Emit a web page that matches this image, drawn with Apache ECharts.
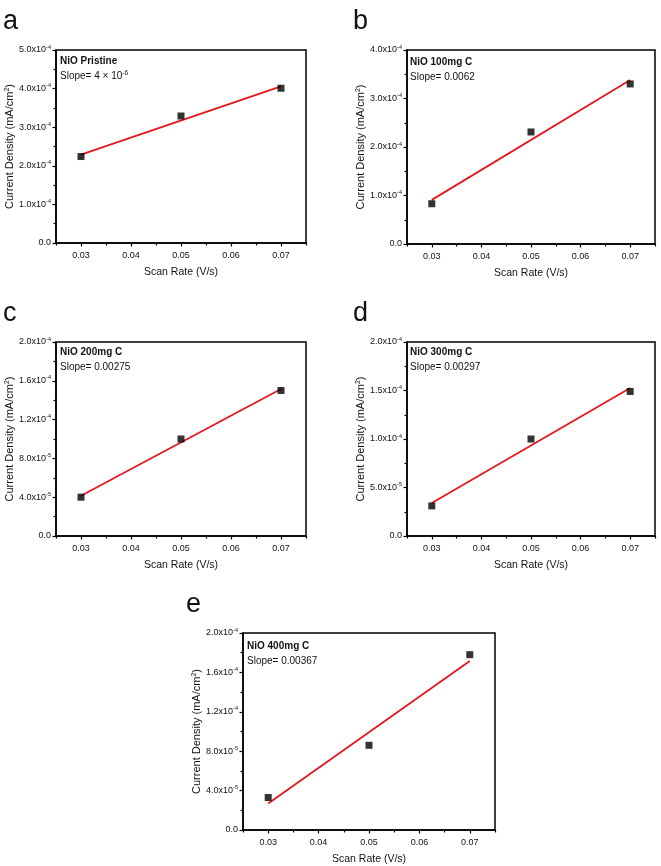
<!DOCTYPE html>
<html>
<head>
<meta charset="utf-8">
<script src="https://cdn.jsdelivr.net/npm/echarts@6/dist/echarts.min.js"></script>
<style>
html,body{margin:0;padding:0;background:#fff;}
#chart{width:661px;height:866px;}
</style>
</head>
<body>
<div id="chart"></div>
<script>
// ---- data ----
const scanRate = [0.03, 0.05, 0.07];
const fitX = [0.03, 0.07];
const xMajorTicks = [0.03, 0.04, 0.05, 0.06, 0.07];
const xMajorLabels = ['0.03', '0.04', '0.05', '0.06', '0.07'];
const xMinorTicks = [0.025, 0.035, 0.045, 0.055, 0.065, 0.075];

const densityA = [2.24e-4, 3.29e-4, 4.01e-4];
const fitA = [2.29e-4, 4.06e-4];
const densityB = [0.83e-4, 2.31e-4, 3.30e-4];
const fitB = [0.91e-4, 3.38e-4];
const densityC = [0.40e-4, 1.00e-4, 1.50e-4];
const fitC = [0.415e-4, 1.515e-4];
const densityD = [0.31e-4, 1.00e-4, 1.49e-4];
const fitD = [0.34e-4, 1.525e-4];
const densityE = [0.33e-4, 0.86e-4, 1.78e-4];
const fitE = [0.27e-4, 1.715e-4];

const yTicksA = [0, 1e-4, 2e-4, 3e-4, 4e-4, 5e-4];
const yLabelsA = ['0.0', '1.0x10^-4', '2.0x10^-4', '3.0x10^-4', '4.0x10^-4', '5.0x10^-4'];
const yTicksB = [0, 1e-4, 2e-4, 3e-4, 4e-4];
const yLabelsB = ['0.0', '1.0x10^-4', '2.0x10^-4', '3.0x10^-4', '4.0x10^-4'];
const yTicksCE = [0, 4e-5, 8e-5, 1.2e-4, 1.6e-4, 2e-4];
const yLabelsCE = ['0.0', '4.0x10^-5', '8.0x10^-5', '1.2x10^-4', '1.6x10^-4', '2.0x10^-4'];
const yTicksD = [0, 5e-5, 1e-4, 1.5e-4, 2e-4];
const yLabelsD = ['0.0', '5.0x10^-5', '1.0x10^-4', '1.5x10^-4', '2.0x10^-4'];

const panelLetters = ['a', 'b', 'c', 'd', 'e'];
const sampleNames = ['NiO Pristine', 'NiO 100mg C', 'NiO 200mg C', 'NiO 300mg C', 'NiO 400mg C'];
const slopeTexts = [['Slope= 4 \u00d7 10', '-6'], ['Slope= 0.0062', ''], ['Slope= 0.00275', ''], ['Slope= 0.00297', ''], ['Slope= 0.00367', '']];
const xName = 'Scan Rate (V/s)';

// ---- layout ----
const FONT = 'Liberation Sans, Arial, Helvetica, sans-serif';
const panels = [
  {grid: {left: 56, top: 50, width: 250, height: 193}, dens: densityA, fit: fitA, ticks: yTicksA, labels: yLabelsA, max: 5e-4, interval: 1e-4, letter: [3, 8], text: [60, 61]},
  {grid: {left: 407, top: 50, width: 248, height: 194}, dens: densityB, fit: fitB, ticks: yTicksB, labels: yLabelsB, max: 4e-4, interval: 1e-4, letter: [353, 8], text: [410, 62]},
  {grid: {left: 56, top: 342, width: 250, height: 194}, dens: densityC, fit: fitC, ticks: yTicksCE, labels: yLabelsCE, max: 2e-4, interval: 4e-5, letter: [3, 300], text: [60, 352]},
  {grid: {left: 407, top: 342, width: 248, height: 194}, dens: densityD, fit: fitD, ticks: yTicksD, labels: yLabelsD, max: 2e-4, interval: 5e-5, letter: [353, 300], text: [410, 352]},
  {grid: {left: 243, top: 633, width: 252, height: 197}, dens: densityE, fit: fitE, ticks: yTicksCE, labels: yLabelsCE, max: 2e-4, interval: 4e-5, letter: [186, 591], text: [247, 646]}
];

const grids = [], xAxes = [], yAxes = [], series = [], graphics = [];
const labelRich = {
  m: {fontSize: 9, fontFamily: FONT, color: '#111', lineHeight: 12},
  e: {fontSize: 5.5, fontFamily: FONT, color: '#111', verticalAlign: 'top', lineHeight: 12, padding: [0, 0, 5, 0]}
};

panels.forEach((p, i) => {
  grids.push(Object.assign({show: true, borderColor: '#000', borderWidth: 1.5, backgroundColor: '#fff'}, p.grid));
  // major x axis
  xAxes.push({
    type: 'value', gridIndex: i, min: 0.025, max: 0.075, position: 'bottom',
    name: xName, nameLocation: 'middle', nameGap: 24,
    nameTextStyle: {fontSize: 10.5, fontFamily: FONT, color: '#111'},
    axisLine: {show: true, lineStyle: {color: '#000', width: 1.5}},
    axisTick: {show: true, customValues: xMajorTicks, length: 3.5, lineStyle: {color: '#000', width: 1.2}},
    axisLabel: {show: true, customValues: xMajorTicks, margin: 8, fontSize: 9, fontFamily: FONT, color: '#111',
      formatter: v => { const k = xMajorTicks.findIndex(t => Math.abs(t - v) < 1e-9); return k >= 0 ? xMajorLabels[k] : ''; }},
    splitLine: {show: false}
  });
  // minor x ticks
  xAxes.push({
    type: 'value', gridIndex: i, min: 0.025, max: 0.075, position: 'bottom', offset: 0,
    axisLine: {show: false},
    axisTick: {show: true, customValues: xMinorTicks, length: 2.5, lineStyle: {color: '#000', width: 1.2}},
    axisLabel: {show: false},
    splitLine: {show: false}
  });
  const ticks = p.ticks, labels = p.labels;
  yAxes.push({
    type: 'value', gridIndex: i, min: 0, max: p.max, interval: p.interval,
    name: '{n|Current Density (mA/cm}{s|2}{n|)}', nameLocation: 'middle', nameGap: 36,
    nameTextStyle: {rich: {
      n: {fontSize: 11, fontFamily: FONT, color: '#111', lineHeight: 13},
      s: {fontSize: 7, fontFamily: FONT, color: '#111', verticalAlign: 'top', lineHeight: 13}
    }},
    axisLine: {show: true, lineStyle: {color: '#000', width: 1.5}},
    axisTick: {show: true, length: 3.5, lineStyle: {color: '#000', width: 1.2}},
    minorTick: {show: true, splitNumber: 2, length: 2.5, lineStyle: {color: '#000', width: 1.2}},
    axisLabel: {show: true, margin: 5, rich: labelRich,
      formatter: v => {
        const k = ticks.findIndex(t => Math.abs(t - v) < 1e-10);
        if (k < 0) return '';
        const parts = labels[k].split('^');
        return parts.length > 1 ? '{m|' + parts[0] + '}{e|' + parts[1] + '}' : '{m|' + parts[0] + '}';
      }},
    splitLine: {show: false},
    minorSplitLine: {show: false}
  });
  series.push({
    type: 'line', xAxisIndex: 2 * i, yAxisIndex: i,
    data: fitX.map((x, j) => [x, p.fit[j]]),
    symbol: 'none', lineStyle: {color: '#e4181c', width: 1.8}, silent: true, z: 2
  });
  series.push({
    type: 'scatter', xAxisIndex: 2 * i, yAxisIndex: i,
    data: scanRate.map((x, j) => [x, p.dens[j]]),
    symbol: 'rect', symbolSize: 7, itemStyle: {color: '#000'}, z: 3
  });
  graphics.push({
    type: 'text', x: p.letter[0], y: p.letter[1],
    style: {text: panelLetters[i], font: 'normal 27px ' + FONT, fill: '#111', verticalAlign: 'top'}
  });
  graphics.push({
    type: 'text', x: p.text[0], y: p.text[1],
    style: {text: sampleNames[i], font: 'bold 10px ' + FONT, fill: '#111', verticalAlign: 'middle'}, z: 10
  });
  const st = slopeTexts[i];
  graphics.push({
    type: 'text', x: p.text[0], y: p.text[1] + 15,
    style: {
      text: st[1] ? '{b|' + st[0] + '}{s|' + st[1] + '}' : '{b|' + st[0] + '}',
      rich: {
        b: {font: 'normal 10px ' + FONT, fill: '#111', lineHeight: 13},
        s: {font: 'normal 6.5px ' + FONT, fill: '#111', verticalAlign: 'top', lineHeight: 13}
      },
      verticalAlign: 'middle'
    }, z: 10
  });
});

const chart = echarts.init(document.getElementById('chart'), null, {renderer: 'canvas'});
chart.setOption({
  backgroundColor: '#fff',
  animation: false,
  grid: grids,
  xAxis: xAxes,
  yAxis: yAxes,
  series: series,
  graphic: graphics
});
</script>
</body>
</html>
